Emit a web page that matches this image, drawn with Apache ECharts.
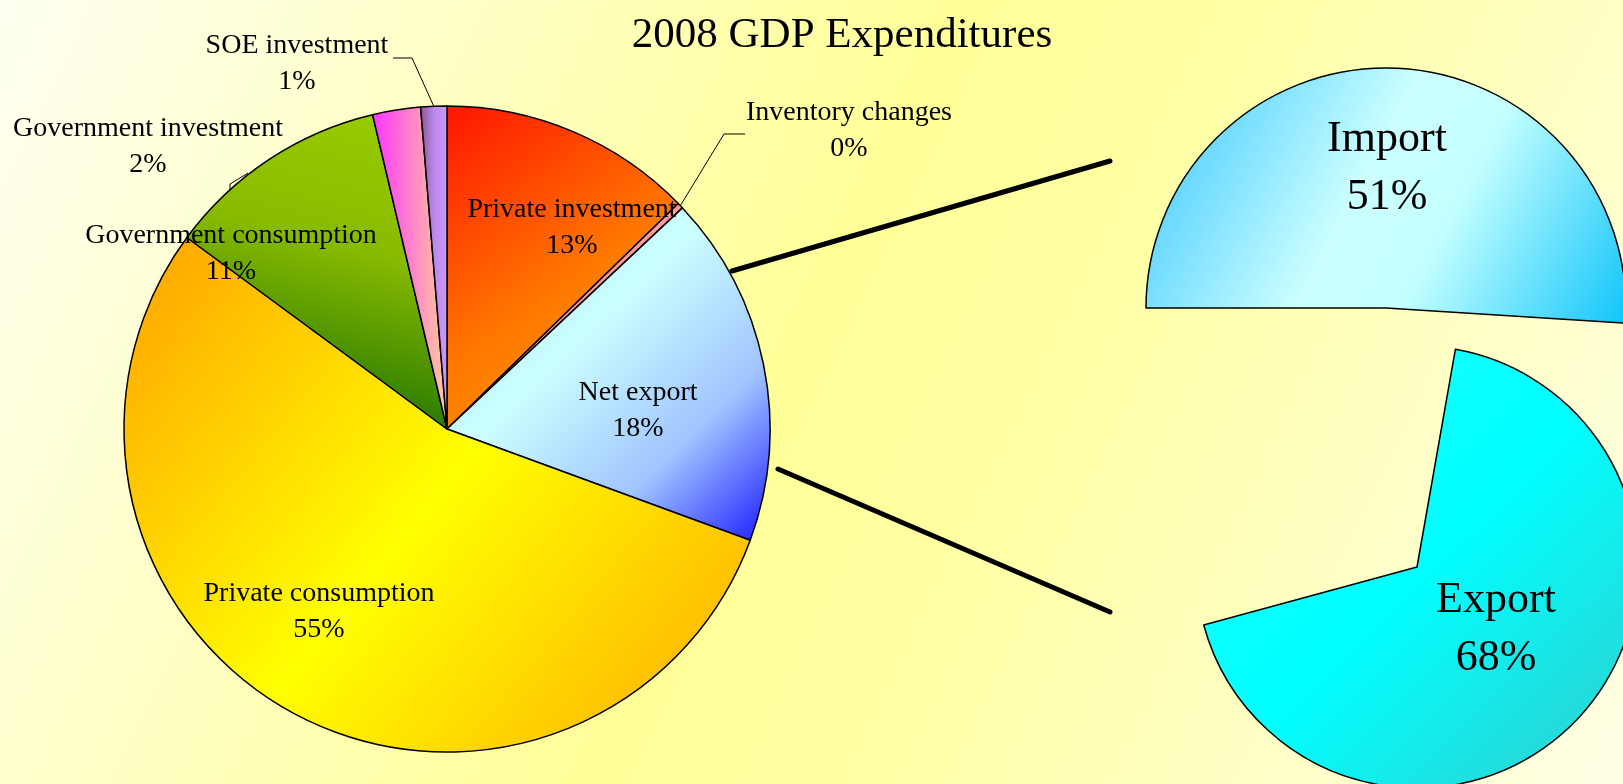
<!DOCTYPE html>
<html>
<head>
<meta charset="utf-8">
<title>2008 GDP Expenditures</title>
<script src="https://cdn.jsdelivr.net/npm/echarts@6/dist/echarts.min.js"></script>
<style>
    html, body { margin: 0; padding: 0; }
    #chart { width: 1623px; height: 784px; }
</style>
</head>
<body>
<div id="chart"></div>
<script>
// 2008 GDP by expenditure, percent of total
const gdpParts = ['Private investment', 'Inventory changes', 'Net export', 'Private consumption',
    'Government consumption', 'Government investment', 'SOE investment'];
const gdpShares = [12.7, 0.3, 17.6, 54.5, 11.2, 2.4, 1.3];

// the two side pies, second value is the part that is left blank
const importShare = [51, 49];
const exportShare = [68, 32];

const FONT = '"Liberation Serif", "Times New Roman", serif';

function grad(x, y, x2, y2, stops) {
    return new echarts.graphic.LinearGradient(x, y, x2, y2,
        stops.map(s => ({ offset: s[0], color: s[1] })));
}

const fills = {
    'Private investment': grad(0, 0, 1, 1, [[0, '#ff1500'], [0.55, '#ff7a00'], [1, '#ff9a00']]),
    'Inventory changes': '#ff9999',
    'Net export': grad(0, 0, 1, 1, [[0, '#a8dcff'], [0.4, '#ccffff'], [0.72, '#a0c4ff'], [1, '#1a1aff']]),
    'Private consumption': grad(0, 0, 1, 1, [[0, '#ffa000'], [0.5, '#ffff00'], [1, '#ffa800']]),
    'Government consumption': grad(0.9, 0, 0.6, 1, [[0, '#99cc00'], [0.45, '#88bb00'], [1, '#1e7200']]),
    'Government investment': grad(0, 0, 1, 0, [[0, '#ff33ff'], [1, '#ffcc99']]),
    'SOE investment': grad(0, 0, 1, 0, [[0, '#885588'], [0.5, '#bb88ee'], [1, '#cc99ff']])
};
const importFill = grad(0, 0, 1, 1, [[0, '#33c4ff'], [0.45, '#ccffff'], [0.62, '#c4ffff'], [1, '#10c4fa']]);
const exportFill = grad(0, 0, 1, 1, [[0, '#22ffff'], [0.5, '#00ffff'], [1, '#33cccc']]);

// where each label block sits (centre), plus bend/end of leader lines
const spots = {
    'Private investment': { x: 572, y: 228 },
    'Inventory changes': { x: 849, y: 131, line: [[724, 134], [745, 134]] },
    'Net export': { x: 638, y: 411 },
    'Private consumption': { x: 319, y: 612 },
    'Government consumption': { x: 231, y: 254 },
    'Government investment': { x: 148, y: 147, line: [[248, 173], [230, 184], [230, 205]], fixed: true },
    'SOE investment': { x: 297, y: 64, line: [[412, 58], [393, 58]] },
    'Import': { x: 1387, y: 168 },
    'Export': { x: 1496, y: 629 }
};

const blank = {
    itemStyle: { color: 'rgba(0,0,0,0)', borderWidth: 0 },
    label: { show: false },
    labelLine: { show: false }
};

function placeLabel(name, params) {
    const s = spots[name];
    const out = { x: s.x, y: s.y, align: 'center', verticalAlign: 'middle' };
    if (s.line) {
        if (s.fixed) {
            out.labelLinePoints = s.line;
        } else {
            const start = params.labelLinePoints ? params.labelLinePoints[0] : s.line[0];
            out.labelLinePoints = [start].concat(s.line);
        }
    }
    return out;
}

const chart = echarts.init(document.getElementById('chart'));

chart.setOption({
    animation: false,
    backgroundColor: {
        type: 'linear', x: 0, y: 0, x2: 1, y2: 1,
        colorStops: [
            { offset: 0, color: '#fffff2' },
            { offset: 0.48, color: '#ffff99' },
            { offset: 0.6, color: '#ffffa2' },
            { offset: 1, color: '#ffffe6' }
        ]
    },
    graphic: [
        {
            type: 'text', x: 842, y: 36,
            style: {
                text: '2008 GDP Expenditures', fill: '#000',
                fontSize: 43, fontFamily: FONT,
                align: 'center', verticalAlign: 'middle'
            }
        },
        {
            type: 'line', shape: { x1: 732, y1: 271, x2: 1110, y2: 161 },
            style: { stroke: '#000', lineWidth: 5, lineCap: 'round' }
        },
        {
            type: 'line', shape: { x1: 778, y1: 469, x2: 1110, y2: 612 },
            style: { stroke: '#000', lineWidth: 5, lineCap: 'round' }
        }
    ],
    series: [
        {
            type: 'pie',
            center: [447, 429],
            radius: 323,
            startAngle: 90,
            clockwise: true,
            avoidLabelOverlap: false,
            percentPrecision: 0,
            emphasis: { disabled: true },
            itemStyle: { borderColor: '#000', borderWidth: 1.5 },
            label: {
                show: true,
                position: 'inside',
                formatter: '{b}\n{d}%',
                color: '#000',
                fontSize: 28,
                lineHeight: 36,
                fontFamily: FONT
            },
            labelLine: { show: false, lineStyle: { color: '#000', width: 1 } },
            labelLayout: params => placeLabel(gdpParts[params.dataIndex], params),
            data: gdpParts.map((name, i) => {
                const item = { name: name, value: gdpShares[i], itemStyle: { color: fills[name] } };
                if (spots[name].line) {
                    item.label = { position: 'outside' };
                    item.labelLine = { show: true };
                }
                return item;
            })
        },
        {
            type: 'pie',
            center: [1386, 308],
            radius: 240,
            startAngle: 180,
            clockwise: true,
            avoidLabelOverlap: false,
            percentPrecision: 0,
            emphasis: { disabled: true },
            itemStyle: { borderColor: '#000', borderWidth: 1.5 },
            label: {
                show: true, position: 'inside', formatter: '{b}\n{d}%',
                color: '#000', fontSize: 44, lineHeight: 58, fontFamily: FONT
            },
            labelLine: { show: false },
            labelLayout: params => params.dataIndex === 0 ? placeLabel('Import', params) : {},
            data: [
                { name: 'Import', value: importShare[0], itemStyle: { color: importFill } },
                Object.assign({ name: 'rest', value: importShare[1] }, blank)
            ]
        },
        {
            type: 'pie',
            center: [1417, 567],
            radius: 221,
            startAngle: 80,
            clockwise: true,
            avoidLabelOverlap: false,
            percentPrecision: 0,
            emphasis: { disabled: true },
            itemStyle: { borderColor: '#000', borderWidth: 1.5 },
            label: {
                show: true, position: 'inside', formatter: '{b}\n{d}%',
                color: '#000', fontSize: 44, lineHeight: 58, fontFamily: FONT
            },
            labelLine: { show: false },
            labelLayout: params => params.dataIndex === 0 ? placeLabel('Export', params) : {},
            data: [
                { name: 'Export', value: exportShare[0], itemStyle: { color: exportFill } },
                Object.assign({ name: 'rest', value: exportShare[1] }, blank)
            ]
        }
    ]
});
</script>
</body>
</html>
